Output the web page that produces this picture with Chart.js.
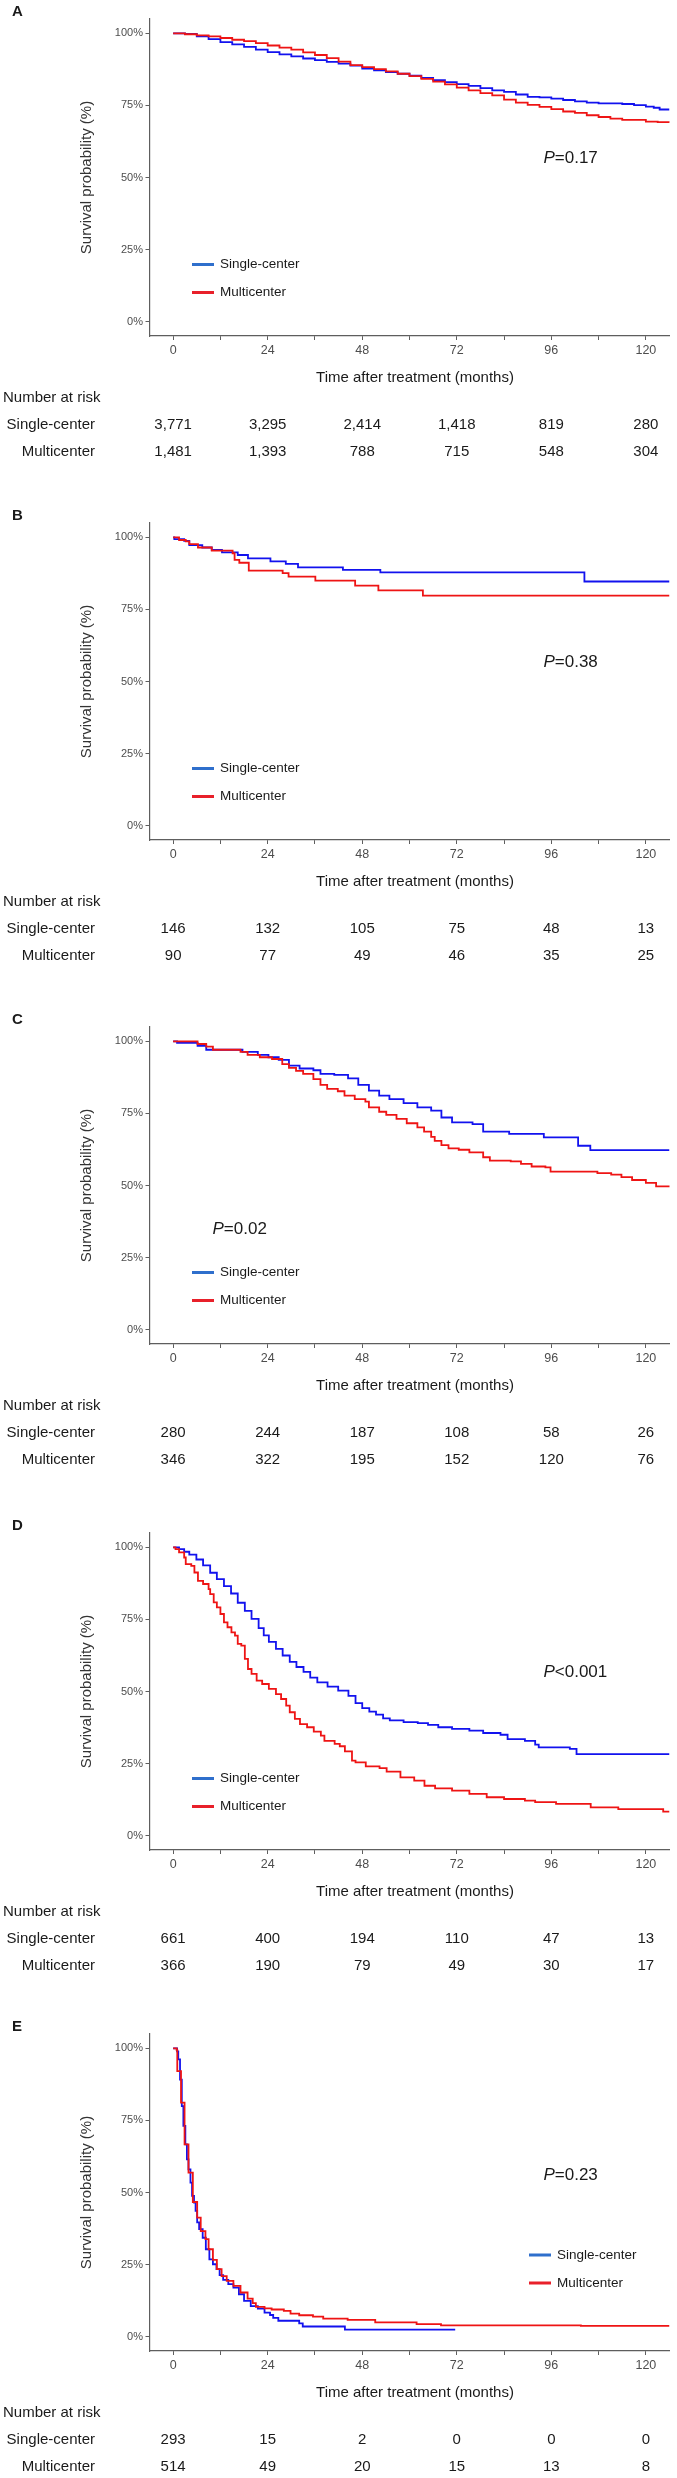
<!DOCTYPE html>
<html>
<head>
<meta charset="utf-8">
<script src="https://cdn.jsdelivr.net/npm/chart.js@4.4.1/dist/chart.umd.min.js"></script>
<style>
    body { margin: 0; background: #fff; width: 677px; height: 2478px; position: relative; overflow: hidden; }
    .panel { position: absolute; left: 0; width: 677px; height: 460px; }
</style>
</head>
<body>
<div class="panel" style="top:1px"><canvas id="km_a" width="677" height="460"></canvas></div>
<div class="panel" style="top:505px"><canvas id="km_b" width="677" height="460"></canvas></div>
<div class="panel" style="top:1009px"><canvas id="km_c" width="677" height="460"></canvas></div>
<div class="panel" style="top:1515px"><canvas id="km_d" width="677" height="460"></canvas></div>
<div class="panel" style="top:2016px"><canvas id="km_e" width="677" height="460"></canvas></div>
<script>
var groupNames = ["Single-center", "Multicenter"];
var riskTimes = [0, 24, 48, 72, 96, 120];
var xTicks = [0, 12, 24, 36, 48, 60, 72, 84, 96, 108, 120];
var yTicks = [0, 0.25, 0.5, 0.75, 1];

// [months, survival]
var a_single = [[0,1],[3,.998],[6,.99],[9,.98],[12,.97],[15,.962],[18,.953],[21,.944],[24,.935],[27,.927],[30,.92],[33,.913],[36,.907],[39,.901],[42,.895],[45,.888],[48,.878],[51,.872],[54,.866],[57,.86],[60,.853],[63,.846],[66,.838],[69,.831],[72,.824],[75,.818],[78,.81],[81,.802],[84,.797],[87,.788],[90,.78],[93,.778],[96,.774],[99,.769],[102,.764],[105,.76],[108,.757],[114,.755],[117,.751],[120,.746],[122,.742],[123.5,.736],[126,.736]];
var a_multi = [[0,1],[3,.997],[6,.993],[9,.99],[12,.984],[15,.978],[18,.973],[21,.966],[24,.958],[27,.951],[30,.944],[33,.934],[36,.925],[39,.914],[42,.902],[45,.89],[48,.883],[51,.876],[54,.868],[57,.86],[60,.852],[63,.842],[66,.833],[69,.823],[72,.812],[75,.802],[78,.793],[81,.785],[84,.77],[87,.76],[90,.752],[93,.745],[96,.737],[99,.729],[102,.724],[105,.716],[108,.71],[111,.704],[114,.7],[119,.7],[120,.694],[123,.692],[126,.69]];
var a_riskSingle = [3771, 3295, 2414, 1418, 819, 280];
var a_riskMulti = [1481, 1393, 788, 715, 548, 304];

var b_single = [[0,1],[0.3,.994],[2.8,.988],[4.1,.973],[7.4,.965],[9.8,.957],[12.4,.948],[16.4,.939],[19,.927],[24.7,.917],[28.6,.908],[31.7,.896],[43.1,.887],[52.6,.879],[104.4,.847],[126,.847]];
var b_multi = [[0,1],[1.5,.991],[3.2,.986],[4.1,.977],[6.3,.965],[9.8,.954],[15.1,.945],[15.6,.922],[16.8,.912],[19.2,.885],[27.8,.876],[29.3,.864],[36.1,.85],[46.2,.833],[52.1,.816],[63.4,.798],[126,.798]];
var b_riskSingle = [146, 132, 105, 75, 48, 13];
var b_riskMulti = [90, 77, 49, 46, 35, 25];

var c_single = [[0,1],[1,.995],[6.2,.985],[8.4,.971],[17.6,.964],[21.5,.953],[24.2,.945],[26.8,.936],[29.4,.916],[32.1,.906],[35.6,.9],[37.4,.887],[40.9,.884],[44.4,.872],[47,.849],[49.7,.829],[52.3,.812],[54.9,.8],[58.5,.786],[62,.771],[65.5,.76],[68.1,.736],[70.8,.719],[76,.713],[78.7,.687],[85.3,.679],[94.1,.667],[102.8,.638],[105.9,.623],[126,.623]];
var c_multi = [[0,1],[6.2,.991],[8.4,.982],[10.1,.971],[17.1,.964],[18.9,.953],[22,.945],[25.1,.939],[27.7,.921],[29.4,.908],[31.2,.898],[33,.887],[35.6,.869],[37.4,.849],[39.1,.835],[41.8,.827],[43.5,.812],[46.1,.8],[48.8,.791],[49.7,.771],[52.3,.756],[54.1,.745],[56.7,.731],[59.3,.716],[62,.702],[63.7,.687],[65.5,.669],[66.4,.655],[68.1,.64],[69.9,.629],[72.5,.624],[75.2,.615],[78.7,.598],[80.4,.586],[85.7,.584],[88.3,.575],[91,.566],[94.5,.563],[95.8,.548],[107.7,.543],[111.2,.538],[113.8,.529],[116.5,.519],[120,.509],[122.6,.497],[126,.494]];
var c_riskSingle = [280, 244, 187, 108, 58, 26];
var c_riskMulti = [346, 322, 195, 152, 120, 76];

var d_single = [[0,1],[1.5,.994],[2.8,.985],[4.1,.975],[5.9,.958],[7.6,.938],[9.4,.912],[11.1,.89],[12.9,.866],[14.7,.84],[16.4,.808],[18.2,.78],[19.9,.752],[21.7,.72],[23,.695],[24.3,.672],[26.1,.648],[27.8,.625],[29.6,.603],[31.3,.585],[33.1,.568],[34.8,.548],[36.6,.532],[39.2,.517],[41.9,.503],[44.5,.485],[46.3,.46],[48,.442],[49.8,.43],[51.5,.42],[53.3,.407],[55,.4],[58.5,.394],[62.1,.39],[64.7,.384],[67.3,.376],[70.8,.37],[75.2,.364],[78.7,.356],[83.1,.35],[84.9,.335],[89.3,.329],[91.9,.316],[92.8,.306],[100.7,.301],[102.4,.283],[126,.283]];
var d_multi = [[0,1],[0.6,.994],[1.5,.983],[2.8,.965],[3.2,.942],[4.6,.936],[5.4,.913],[6.3,.884],[7.6,.873],[9,.855],[9.4,.838],[10.3,.809],[11.1,.792],[12,.769],[12.9,.74],[13.8,.723],[14.8,.705],[15.7,.694],[16.4,.665],[17.3,.659],[18.2,.613],[19,.578],[19.9,.561],[21.2,.538],[22.6,.526],[24.3,.509],[26.1,.491],[27.4,.474],[28.7,.451],[29.6,.428],[30.9,.405],[32.2,.387],[34,.376],[35.7,.361],[37.5,.347],[38.4,.329],[41,.318],[42.3,.31],[43.6,.292],[45.4,.26],[46.3,.254],[48.9,.24],[52.4,.234],[54.2,.222],[57.7,.202],[61.2,.191],[63.8,.173],[66.5,.164],[70.8,.156],[75.2,.145],[79.6,.133],[84,.127],[89.3,.121],[91.9,.116],[97.2,.11],[106,.098],[113,.092],[124.4,.083],[126,.083]];
var d_riskSingle = [661, 400, 194, 110, 47, 13];
var d_riskMulti = [366, 190, 79, 49, 30, 17];

var e_single = [[0,1],[1,.99],[1.3,.962],[1.75,.892],[2.2,.8],[2.6,.731],[3.1,.667],[3.5,.615],[3.9,.58],[4.4,.534],[4.8,.488],[5.3,.465],[5.7,.436],[6.1,.396],[6.6,.373],[7.5,.343],[8.3,.303],[9.2,.268],[10.1,.251],[11,.234],[11.8,.213],[12.7,.197],[14,.182],[15.3,.17],[16.7,.147],[18,.124],[19.7,.106],[21.5,.097],[23.2,.083],[24.6,.075],[25.4,.065],[26.7,.055],[32,.046],[32.9,.035],[43.6,.024],[71.6,.024]];
var e_multi = [[0,1],[0.9,.994],[1.05,.921],[2,.812],[2.9,.667],[3.9,.569],[5,.467],[6.1,.413],[7,.366],[8.2,.338],[9,.303],[10.1,.266],[11.1,.234],[12.3,.21],[13.6,.193],[15.3,.176],[17.1,.153],[18.9,.132],[20.2,.116],[21,.103],[23.2,.098],[25,.094],[28.1,.089],[29.8,.08],[32,.074],[35.5,.069],[38.1,.062],[44.3,.058],[51.3,.049],[61.8,.043],[68,.039],[103.5,.037],[126,.037]];
var e_riskSingle = [293, 15, 2, 0, 0, 0];
var e_riskMulti = [514, 49, 20, 15, 13, 8];

var fontFam = "'Liberation Sans', Arial, Helvetica, sans-serif";
var blueLine = "#1212ee";
var redLine = "#ee1414";
var blueKey = "#2f6fcc";
var redKey = "#e8202a";
var axisGrey = "#5e5e5e";

Chart.defaults.font.family = fontFam;

function toPoints(arr) {
    return arr.map(function(p) { return { x: p[0], y: p[1] }; });
}

function kmChart(canvasId, letter, single, multi, riskSingle, riskMulti, pText, pAt, legendAt) {
    var extras = {
        id: "kmExtras",
        afterDraw: function(chart) {
            var ctx = chart.ctx;
            var area = chart.chartArea;
            var xs = chart.scales.x;
            var ys = chart.scales.y;
            ctx.save();
            ctx.fillStyle = "#1a1a1a";
            ctx.textBaseline = "middle";

            // panel letter
            ctx.font = "bold 15px " + fontFam;
            ctx.textAlign = "left";
            ctx.fillText(letter, 12, area.top - 7);

            // log-rank p
            var px = xs.getPixelForValue(pAt[0]);
            var py = ys.getPixelForValue(pAt[1]);
            ctx.font = "italic 17px " + fontFam;
            ctx.fillText("P", px, py);
            var pw = ctx.measureText("P").width;
            ctx.font = "17px " + fontFam;
            ctx.fillText(pText, px + pw, py);

            // legend
            var keys = [blueKey, redKey];
            ctx.font = "13.5px " + fontFam;
            for (var k = 0; k < 2; k++) {
                var ly = area.top + legendAt[1] + k * 28;
                ctx.strokeStyle = keys[k];
                ctx.lineWidth = 3;
                ctx.beginPath();
                ctx.moveTo(area.left + legendAt[0], ly);
                ctx.lineTo(area.left + legendAt[0] + 22, ly);
                ctx.stroke();
                ctx.fillText(groupNames[k], area.left + legendAt[0] + 28, ly);
            }

            // x axis title
            ctx.font = "15px " + fontFam;
            ctx.textAlign = "center";
            ctx.fillText("Time after treatment (months)", 415, area.bottom + 42);

            // number at risk
            ctx.textAlign = "left";
            ctx.fillText("Number at risk", 3, area.top + 379);
            ctx.textAlign = "right";
            ctx.fillText(groupNames[0], 95, area.top + 406);
            ctx.fillText(groupNames[1], 95, area.top + 433);
            ctx.textAlign = "center";
            for (var i = 0; i < riskTimes.length; i++) {
                var rx = xs.getPixelForValue(riskTimes[i]);
                ctx.fillText(riskSingle[i].toLocaleString("en-US"), rx, area.top + 406);
                ctx.fillText(riskMulti[i].toLocaleString("en-US"), rx, area.top + 433);
            }
            ctx.restore();
        }
    };

    return new Chart(document.getElementById(canvasId), {
        type: "line",
        data: {
            datasets: [{
                label: groupNames[0],
                data: toPoints(single),
                borderColor: blueLine,
                borderWidth: 1.8,
                pointRadius: 0,
                stepped: "before",
                fill: false,
                order: 2,
            }, {
                label: groupNames[1],
                data: toPoints(multi),
                borderColor: redLine,
                borderWidth: 1.8,
                pointRadius: 0,
                stepped: "before",
                fill: false,
                order: 1,
            }, ],
        },
        options: {
            responsive: false,
            animation: false,
            devicePixelRatio: 1,
            layout: { padding: { top: 18, right: 7.5, bottom: 0, left: 0 } },
            plugins: {
                legend: { display: false },
                tooltip: { enabled: false },
            },
            scales: {
                x: {
                    type: "linear",
                    min: -6,
                    max: 126,
                    afterBuildTicks: function(s) {
                        s.ticks = xTicks.map(function(v) { return { value: v }; });
                    },
                    afterFit: function(s) { s.height = 125; },
                    ticks: {
                        autoSkip: false,
                        maxRotation: 0,
                        padding: 3,
                        color: "#4d4d4d",
                        font: { size: 12.5 },
                        callback: function(v) { return v % 24 === 0 ? String(v) : ""; },
                    },
                    grid: { drawOnChartArea: false, drawTicks: true, tickLength: 4, color: axisGrey },
                    border: { display: true, color: axisGrey, width: 1.2 },
                },
                y: {
                    type: "linear",
                    min: -0.05,
                    max: 1.05,
                    afterBuildTicks: function(s) {
                        s.ticks = yTicks.map(function(v) { return { value: v }; });
                    },
                    afterFit: function(s) { s.width = 149.5; },
                    ticks: {
                        padding: 2.5,
                        color: "#4d4d4d",
                        font: { size: 11 },
                        callback: function(v) { return Math.round(v * 100) + "%"; },
                    },
                    grid: { drawOnChartArea: false, drawTicks: true, tickLength: 4, color: axisGrey },
                    border: { display: true, color: axisGrey, width: 1.2 },
                    title: {
                        display: true,
                        text: "Survival probability (%)",
                        color: "#333333",
                        font: { size: 15 },
                        padding: { top: 78, bottom: 0 },
                    },
                },
            },
        },
        plugins: [extras],
    });
}

kmChart("km_a", "A", a_single, a_multi, a_riskSingle, a_riskMulti, "=0.17", [94, 0.566], [42.5, 245.5]);
kmChart("km_b", "B", b_single, b_multi, b_riskSingle, b_riskMulti, "=0.38", [94, 0.566], [42.5, 245.5]);
kmChart("km_c", "C", c_single, c_multi, c_riskSingle, c_riskMulti, "=0.02", [10, 0.347], [42.5, 245.5]);
kmChart("km_d", "D", d_single, d_multi, d_riskSingle, d_riskMulti, "<0.001", [94, 0.566], [42.5, 245.5]);
kmChart("km_e", "E", e_single, e_multi, e_riskSingle, e_riskMulti, "=0.23", [94, 0.56], [379.5, 221]);
</script>
</body>
</html>
